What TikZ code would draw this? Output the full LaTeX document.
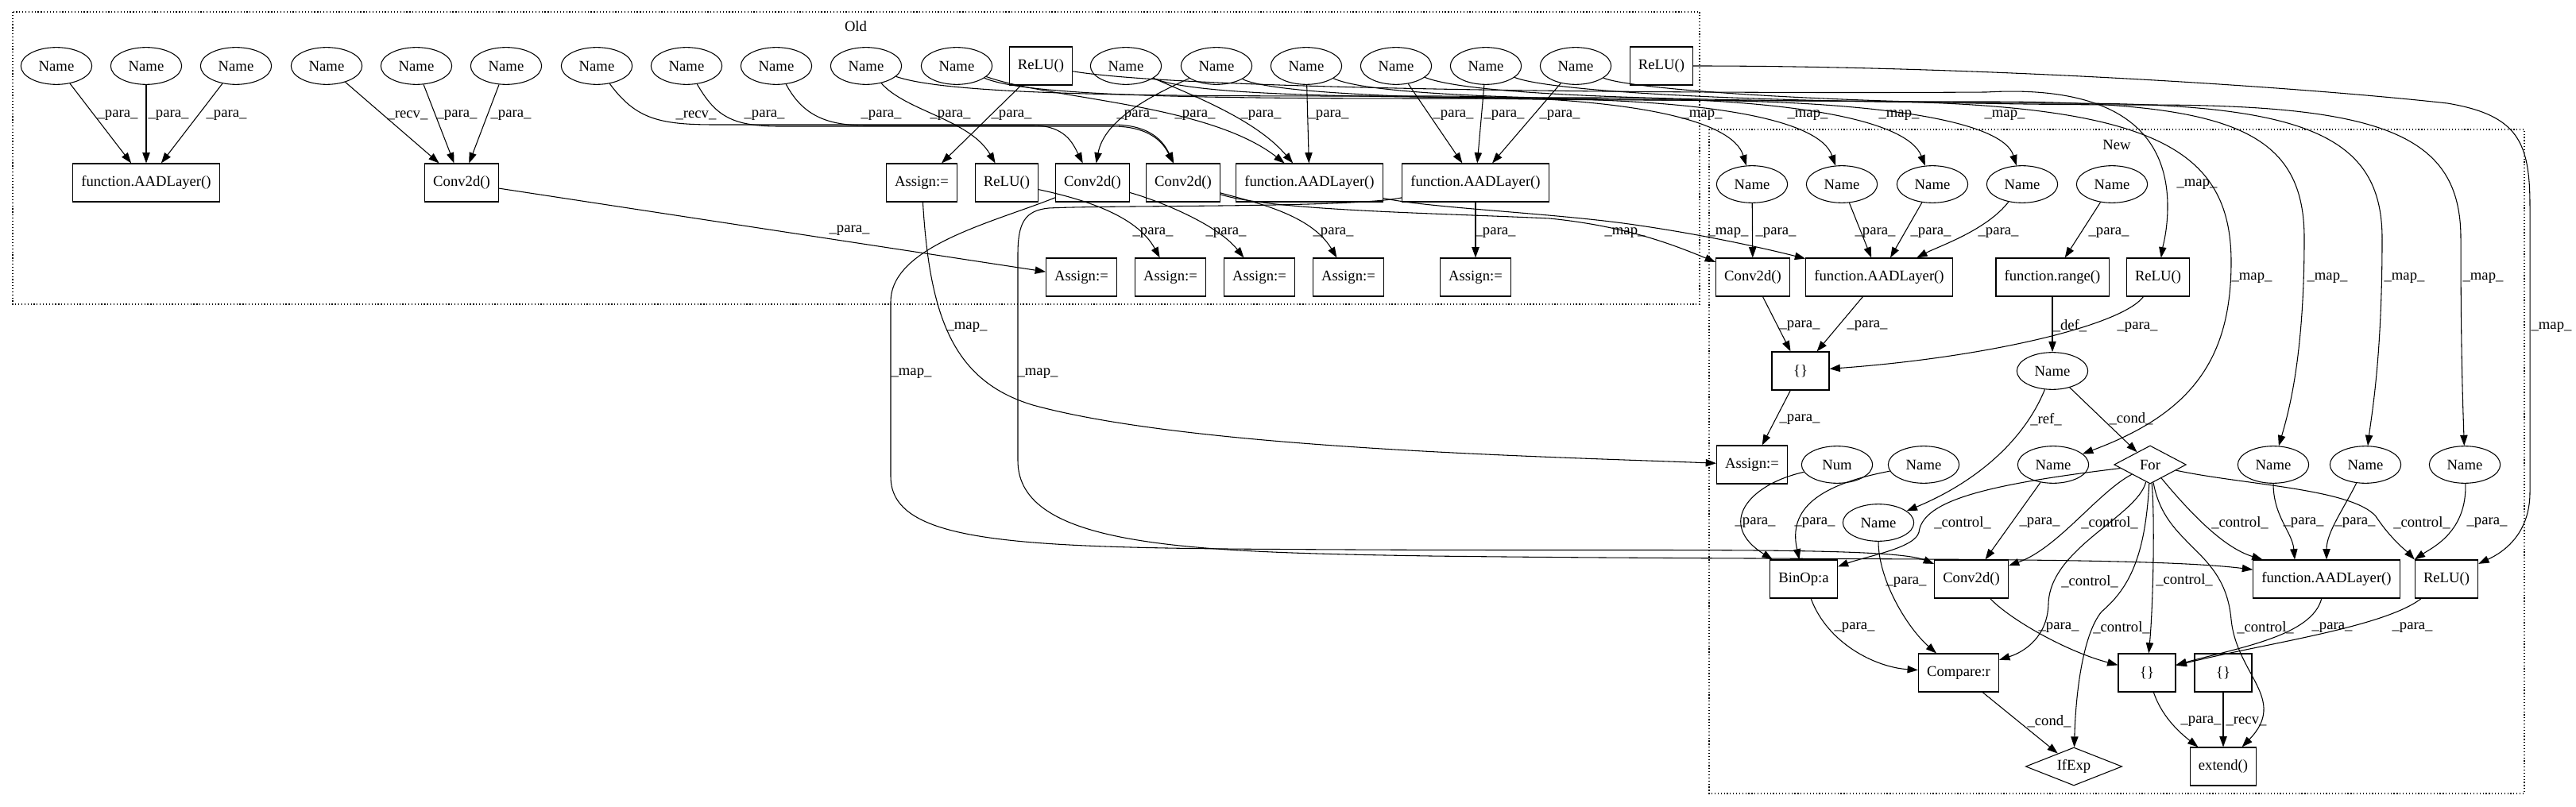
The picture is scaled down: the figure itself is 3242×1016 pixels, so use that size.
\documentclass[tikz,border=0pt]{standalone}
\usepackage{fontspec}
\setmainfont{Liberation Serif}
\usetikzlibrary{shapes.geometric, arrows.meta}

\begin{document}
\begin{tikzpicture}[x=0.75pt, y=-0.75pt,
    every node/.style = {font=\fontsize{14pt}{16pt}\selectfont},
    var/.style = {draw, ellipse, minimum width=67pt, minimum height=35pt, inner sep=0pt, line width=0.8pt},
    op/.style = {draw, rectangle, minimum width=54pt, minimum height=36pt, inner xsep=8pt, inner ysep=0pt, line width=0.8pt},
    cond/.style = {draw, diamond, aspect=2, inner sep=0pt, minimum height=36pt, line width=0.8pt},
    e/.style = {-{Triangle[length=10pt,width=7pt]}, line width=0.8pt},
    lbl/.style = {inner sep=0pt},
    cluster/.style = {dotted, line width=0.9pt}]
    \useasboundingbox (0,0) rectangle (3242,1016);

    % clusters
    \draw[cluster] (16,15) rectangle (2139,383);
    \node (old) at (1077,33) {Old};
    \draw[cluster] (2151,163) rectangle (3177,999);
    \node (new) at (2664,182) {New};

    % old: top row
    \node[var] (o1) at (71,83) {Name};
    \node[var] (o2) at (184,83) {Name};
    \node[var] (o3) at (297,83) {Name};
    \node[var] (o4) at (411,83) {Name};
    \node[var] (o5) at (524,83) {Name};
    \node[var] (o6) at (637,83) {Name};
    \node[var] (o7) at (751,83) {Name};
    \node[var] (o8) at (864,83) {Name};
    \node[var] (o9) at (977,83) {Name};
    \node[var] (o10) at (1090,83) {Name};
    \node[var] (o11) at (1204,83) {Name};
    \node[op] (oR1) at (1310,83) {ReLU()};
    \node[var] (o12) at (1417,83) {Name};
    \node[var] (o13) at (1531,83) {Name};
    \node[var] (o14) at (1644,83) {Name};
    \node[var] (o15) at (1757,83) {Name};
    \node[var] (o16) at (1870,83) {Name};
    \node[var] (o17) at (1983,83) {Name};
    \node[op] (oR2) at (2091,83) {ReLU()};
    % old: calls
    \node[op] (of1) at (184,230) {function.AADLayer()};
    \node[op] (oc1) at (581,230) {Conv2d()};
    \node[op] (oa0) at (1160,230) {Assign:=};
    \node[op] (or1) at (1267,230) {ReLU()};
    \node[op] (oc2) at (1375,230) {Conv2d()};
    \node[op] (oc3) at (1489,230) {Conv2d()};
    \node[op] (of2) at (1648,230) {function.AADLayer()};
    \node[op] (of3) at (1857,230) {function.AADLayer()};
    % old: assigns
    \node[op] (oa1) at (1361,349) {Assign:=};
    \node[op] (oa2) at (1473,349) {Assign:=};
    \node[op] (oa3) at (1585,349) {Assign:=};
    \node[op] (oa4) at (1697,349) {Assign:=};
    \node[op] (oa5) at (1857,349) {Assign:=};

    % new
    \node[var] (n1) at (2205,232) {Name};
    \node[var] (n2) at (2318,232) {Name};
    \node[var] (n3) at (2432,232) {Name};
    \node[var] (n4) at (2545,232) {Name};
    \node[var] (n5) at (2658,232) {Name};
    \node[op] (nc1) at (2206,349) {Conv2d()};
    \node[op] (nf1) at (2365,349) {function.AADLayer()};
    \node[op] (nrg) at (2583,349) {function.range()};
    \node[op] (nR1) at (2716,349) {ReLU()};
    \node[op] (nb1) at (2266,467) {\{\}};
    \node[var] (n6) at (2583,467) {Name};
    \node[op] (na1) at (2205,585) {Assign:=};
    \node[var] (nnum) at (2312,585) {Num};
    \node[var] (n8) at (2421,585) {Name};
    \node[var] (n9) at (2584,585) {Name};
    \node[cond, minimum width=68pt] (nfor) at (2706,585) {For};
    \node[var] (n10) at (2861,585) {Name};
    \node[var] (n11) at (2977,585) {Name};
    \node[var] (n12) at (3102,585) {Name};
    \node[var] (n7) at (2364,658) {Name};
    \node[op] (nbin) at (2270,729) {BinOp:a};
    \node[op] (nc2) at (2481,729) {Conv2d()};
    \node[op] (nf2) at (2928,729) {function.AADLayer()};
    \node[op] (nR2) at (3079,729) {ReLU()};
    \node[op] (ncmp) at (2465,847) {Compare:r};
    \node[op] (nb2) at (2702,847) {\{\}};
    \node[op] (nb3) at (2798,847) {\{\}};
    \node[cond, minimum width=91pt] (nif) at (2610,965) {IfExp};
    \node[op] (next) at (2798,965) {extend()};

    % old edges
    \draw[e] (o1) -- (of1) node[lbl] at (148,145) {\_para\_};
    \draw[e] (o2) -- (of1) node[lbl] at (212,145) {\_para\_};
    \draw[e] (o3) -- (of1) node[lbl] at (285,145) {\_para\_};
    \draw[e] (o4) -- (oc1) node[lbl] at (513,145) {\_recv\_};
    \draw[e] (o5) -- (oc1) node[lbl] at (575,145) {\_para\_};
    \draw[e] (o6) -- (oc1) node[lbl] at (643,145) {\_para\_};
    \draw[e] (oc1) -- (oa1) node[lbl] at (1069,290) {\_para\_};
    \draw[e] (o7) .. controls (800,150) and (830,157) .. (900,157) -- (1400,157) .. controls (1450,157) and (1465,180) .. (oc3) node[lbl] at (876,145) {\_recv\_};
    \draw[e] (o8) .. controls (900,145) and (920,159) .. (980,159) -- (1400,159) .. controls (1450,159) and (1465,182) .. (oc3) node[lbl] at (962,145) {\_para\_};
    \draw[e] (o9) .. controls (1010,145) and (1040,158) .. (1090,158) -- (1300,158) .. controls (1340,158) and (1350,180) .. (oc2) node[lbl] at (1109,145) {\_para\_};
    \draw[e] (o10) .. controls (1140,140) and (1220,150) .. (or1) node[lbl] at (1196,145) {\_para\_};
    \draw[e] (oR1) -- (oa0) node[lbl] at (1273,145) {\_para\_};
    \draw[e] (o13) .. controls (1450,120) and (1390,150) .. (oc2) node[lbl] at (1431,145) {\_para\_};
    \draw[e] (o11) .. controls (1320,125) and (1520,130) .. (of2) node[lbl] at (1504,145) {\_para\_};
    \draw[e] (o12) .. controls (1500,120) and (1580,150) .. (of2) node[lbl] at (1587,145) {\_para\_};
    \draw[e] (o14) -- (of2) node[lbl] at (1672,145) {\_para\_};
    \draw[e] (o15) -- (of3) node[lbl] at (1829,145) {\_para\_};
    \draw[e] (o16) -- (of3) node[lbl] at (1893,145) {\_para\_};
    \draw[e] (o17) -- (of3) node[lbl] at (1963,145) {\_para\_};
    \draw[e] (or1) .. controls (1360,250) and (1430,270) .. (oa2) node[lbl] at (1451,293) {\_para\_};
    \draw[e] (oc2) .. controls (1450,250) and (1530,280) .. (oa3) node[lbl] at (1543,293) {\_para\_};
    \draw[e] (oc3) .. controls (1580,255) and (1650,270) .. (oa4) node[lbl] at (1678,293) {\_para\_};
    \draw[e] (of3) -- (oa5) node[lbl] at (1882,293) {\_para\_};

    % old to new
    \draw[e] (oa0) .. controls (1170,400) and (1200,480) .. (1300,510) .. controls (1500,565) and (1950,575) .. (na1) node[lbl] at (1217,412) {\_map\_};
    \draw[e] (oc2) .. controls (1250,280) and (1121,310) .. (1121,380) -- (1121,600) .. controls (1121,690) and (1300,690) .. (1700,692) .. controls (2100,694) and (2380,688) .. (nc2) node[lbl] at (1147,470) {\_map\_};
    \draw[e] (of3) .. controls (1700,262) and (1400,258) .. (1320,262) .. controls (1290,265) and (1281,280) .. (1281,320) -- (1281,580) .. controls (1281,690) and (1500,695) .. (1800,700) .. controls (2300,706) and (2700,700) .. (nf2) node[lbl] at (1306,470) {\_map\_};
    \draw[e] (oc3) .. controls (1600,265) and (1800,268) .. (1950,275) .. controls (2050,285) and (2110,310) .. (nc1) node[lbl] at (2045,293) {\_map\_};
    \draw[e] (of2) .. controls (1800,262) and (1950,268) .. (2050,282) .. controls (2150,296) and (2230,315) .. (nf1) node[lbl] at (2175,293) {\_map\_};
    \draw[e] (o10) .. controls (1200,122) and (1500,121) .. (1800,121) .. controls (2050,121) and (2180,150) .. (n1) node[lbl] at (2142,145) {\_map\_};
    \draw[e] (o11) .. controls (1300,125) and (1600,124) .. (1900,124) .. controls (2150,124) and (2290,150) .. (n2) node[lbl] at (2275,145) {\_map\_};
    \draw[e] (o12) .. controls (1500,120) and (1700,123) .. (2000,123) .. controls (2250,123) and (2400,150) .. (n3) node[lbl] at (2390,145) {\_map\_};
    \draw[e] (o13) .. controls (1600,118) and (1800,126) .. (2100,126) .. controls (2350,126) and (2520,150) .. (n4) node[lbl] at (2523,145) {\_map\_};
    \draw[e] (o14) .. controls (1720,118) and (1900,127) .. (2300,127) .. controls (2700,127) and (2808,180) .. (2808,330) .. controls (2808,450) and (2760,520) .. (n9) node[lbl] at (2834,350) {\_map\_};
    \draw[e] (o15) .. controls (1850,120) and (2100,128) .. (2500,128) .. controls (2800,128) and (2900,160) .. (2900,300) .. controls (2900,450) and (2880,520) .. (n10) node[lbl] at (2929,350) {\_map\_};
    \draw[e] (o16) .. controls (1950,115) and (2200,130) .. (2600,130) .. controls (2900,130) and (2998,170) .. (2998,300) .. controls (2998,450) and (2985,520) .. (n11) node[lbl] at (3026,350) {\_map\_};
    \draw[e] (o17) .. controls (2050,112) and (2300,132) .. (2700,132) .. controls (3000,132) and (3097,170) .. (3097,300) .. controls (3097,450) and (3100,520) .. (n12) node[lbl] at (3125,350) {\_map\_};
    \draw[e] (oR2) .. controls (2500,83) and (2900,110) .. (3080,130) .. controls (3170,145) and (3184,180) .. (3184,260) -- (3184,620) .. controls (3184,680) and (3140,700) .. (nR2) node[lbl] at (3211,412) {\_map\_};
    \draw[e] (oR1) .. controls (1500,115) and (2200,118) .. (2500,116) .. controls (2640,108) and (2728,150) .. (2728,260) .. controls (2728,290) and (2722,310) .. (nR1) node[lbl] at (2765,232) {\_map\_};

    % new edges
    \draw[e] (n1) -- (nc1) node[lbl] at (2235,293) {\_para\_};
    \draw[e] (n2) -- (nf1) node[lbl] at (2360,293) {\_para\_};
    \draw[e] (n3) -- (nf1) node[lbl] at (2430,293) {\_para\_};
    \draw[e] (n4) .. controls (2500,290) and (2440,310) .. (nf1) node[lbl] at (2515,293) {\_para\_};
    \draw[e] (n5) -- (nrg) node[lbl] at (2654,293) {\_para\_};
    \draw[e] (nc1) -- (nb1) node[lbl] at (2265,410) {\_para\_};
    \draw[e] (nf1) -- (nb1) node[lbl] at (2350,410) {\_para\_};
    \draw[e] (nR1) .. controls (2670,410) and (2500,450) .. (nb1) node[lbl] at (2690,412) {\_para\_};
    \draw[e] (nrg) -- (n6) node[lbl] at (2605,410) {\_def\_};
    \draw[e] (nb1) -- (na1) node[lbl] at (2265,528) {\_para\_};
    \draw[e] (n6) -- (nfor) node[lbl] at (2682,527) {\_cond\_};
    \draw[e] (n6) .. controls (2545,560) and (2480,610) .. (n7) node[lbl] at (2575,528) {\_ref\_};
    \draw[e] (nnum) .. controls (2200,610) and (2160,660) .. (nbin) node[lbl] at (2209,658) {\_para\_};
    \draw[e] (n8) .. controls (2290,610) and (2250,640) .. (nbin) node[lbl] at (2284,658) {\_para\_};
    \draw[e] (nfor) .. controls (2500,610) and (2420,630) .. (2415,670) .. controls (2410,690) and (2350,700) .. (nbin) node[lbl] at (2470,658) {\_control\_};
    \draw[e] (n9) -- (nc2) node[lbl] at (2567,658) {\_para\_};
    \draw[e] (nfor) .. controls (2640,620) and (2590,690) .. (nc2) node[lbl] at (2655,658) {\_control\_};
    \draw[e] (nfor) .. controls (2760,650) and (2800,690) .. (nf2) node[lbl] at (2819,658) {\_control\_};
    \draw[e] (n10) .. controls (2861,650) and (2885,670) .. ([xshift=-30pt]nf2.north) node[lbl] at (2899,658) {\_para\_};
    \draw[e] (n11) .. controls (2950,640) and (2928,670) .. (nf2.north) node[lbl] at (2964,658) {\_para\_};
    \draw[e] (nfor) .. controls (2820,610) and (2960,615) .. (2990,650) .. controls (3010,680) and (3030,695) .. (nR2.north west) node[lbl] at (3048,658) {\_control\_};
    \draw[e] (n12) .. controls (3105,670) and (3060,690) .. (nR2.north west) node[lbl] at (3130,658) {\_para\_};
    \draw[e] (n7) .. controls (2364,730) and (2400,790) .. (ncmp) node[lbl] at (2399,733) {\_para\_};
    \draw[e] (nbin) .. controls (2300,810) and (2360,840) .. (ncmp) node[lbl] at (2334,790) {\_para\_};
    \draw[e] (nfor) .. controls (2690,650) and (2580,690) .. (2578,760) .. controls (2577,800) and (2550,820) .. (ncmp) node[lbl] at (2630,732) {\_control\_};
    \draw[e] (nfor) .. controls (2700,700) and (2680,740) .. (2645,770) .. controls (2620,800) and (2612,880) .. (nif) node[lbl] at (2670,790) {\_control\_};
    \draw[e] (nfor) .. controls (2712,650) and (2710,760) .. (nb2) node[lbl] at (2749,730) {\_control\_};
    \draw[e] (nfor) .. controls (2725,690) and (2800,690) .. (2808,780) .. controls (2815,850) and (2880,880) .. (next) node[lbl] at (2851,790) {\_control\_};
    \draw[e] (nc2) .. controls (2530,780) and (2600,820) .. (nb2) node[lbl] at (2591,790) {\_para\_};
    \draw[e] (nf2) .. controls (2910,800) and (2820,815) .. (nb2) node[lbl] at (2935,790) {\_para\_};
    \draw[e] (nR2) .. controls (3000,790) and (2850,810) .. (nb2) node[lbl] at (3036,790) {\_para\_};
    \draw[e] (ncmp) -- (nif) node[lbl] at (2579,908) {\_cond\_};
    \draw[e] (nb2) .. controls (2720,900) and (2740,920) .. (next) node[lbl] at (2770,908) {\_para\_};
    \draw[e] (nb3) -- (next) node[lbl] at (2827,908) {\_recv\_};
\end{tikzpicture}
\end{document}
